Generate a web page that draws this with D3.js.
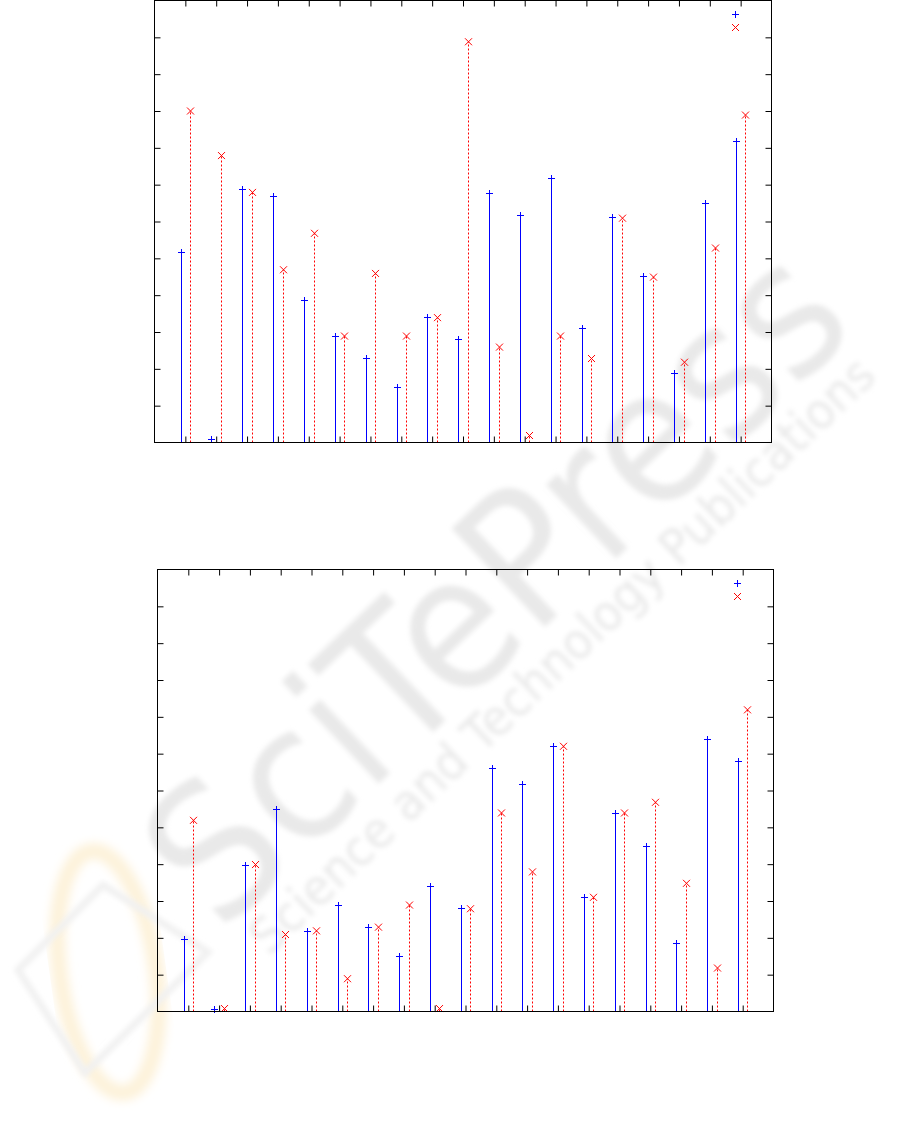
<!DOCTYPE html>
<html>
<head>
<meta charset="utf-8">
<script src="https://cdn.jsdelivr.net/npm/d3@7"></script>
<style>
  body { margin: 0; background: #fff; }
  svg { display: block; }
</style>
</head>
<body>
<div id="viz"></div>
<script>
/* ---- data (no axis labels in the original) ---- */
var groups = [1, 2, 3, 4, 5, 6, 7, 8, 9, 10, 11, 12, 13, 14, 15, 16, 17, 18, 19];
var xTicks = [1, 2, 3, 4, 5, 6, 7, 8, 9, 10, 11, 12, 13, 14, 15, 16, 17, 18, 19];
var yTicks = [1, 2, 3, 4, 5, 6, 7, 8, 9, 10, 11];

// upper panel
var topBlue = [5.18, 0.09, 6.88, 6.69, 3.88, 2.90, 2.29, 1.50, 3.40, 2.80,
               6.78, 6.19, 7.18, 3.12, 6.11, 4.51, 1.90, 6.49, 8.19];
var topRed  = [9.00, 7.79, 6.79, 4.69, 5.68, 2.89, 4.59, 2.89, 3.39, 10.88,
               2.59, 0.19, 2.89, 2.28, 6.09, 4.49, 2.18, 5.28, 8.89];

// lower panel
var botBlue = [1.98, 0.08, 3.99, 5.49, 2.18, 2.88, 2.30, 1.50, 3.40, 2.80,
               6.60, 6.19, 7.20, 3.10, 5.38, 4.48, 1.87, 7.39, 6.80];
var botRed  = [5.19, 0.08, 3.99, 2.09, 2.19, 0.89, 2.29, 2.89, 0.08, 2.79,
               5.39, 3.79, 7.20, 3.10, 5.39, 5.68, 3.48, 1.18, 8.19];

var xDomain = [0, 20];
var yDomain = [0, 12];

var svg = d3.select("#viz")
  .append("svg")
    .attr("width", 901)
    .attr("height", 1130);

/* ---- faint publisher watermark behind everything ---- */
var defs = svg.append("defs");
defs.append("filter").attr("id", "soft")
  .append("feGaussianBlur").attr("stdDeviation", 2.5);
defs.append("filter").attr("id", "softer")
  .append("feGaussianBlur").attr("stdDeviation", 5);

var wm = svg.append("g").attr("class", "watermark");

wm.append("ellipse")
  .attr("transform", "translate(108,972) rotate(-8)")
  .attr("rx", 48).attr("ry", 122)
  .attr("fill", "none")
  .attr("stroke", "#fdf2da")
  .attr("stroke-width", 16)
  .attr("filter", "url(#softer)");

wm.append("polygon")
  .attr("points", "18,970 103,885 208,952 85,1073")
  .attr("fill", "none")
  .attr("stroke", "#f1f1f1")
  .attr("stroke-width", 7)
  .attr("filter", "url(#soft)");

var wmText = wm.append("g")
  .attr("transform", "translate(505,595) rotate(-43.5)")
  .attr("fill", "#e9e9e9")
  .attr("filter", "url(#soft)")
  .style("font-family", "'DejaVu Sans', sans-serif");

wmText.append("text")
  .attr("x", 0).attr("y", 50)
  .attr("text-anchor", "middle")
  .attr("textLength", 880)
  .attr("lengthAdjust", "spacingAndGlyphs")
  .style("font-size", "185px")
  .text("SciTePress");

wmText.append("text")
  .attr("x", 0).attr("y", 100)
  .attr("text-anchor", "middle")
  .attr("textLength", 840)
  .attr("lengthAdjust", "spacingAndGlyphs")
  .style("font-size", "50px")
  .text("Science and Technology Publications");

/* ---- one impulse panel ---- */
function drawPanel(frame, blue, red) {
    var x = d3.scaleLinear().domain(xDomain).range([frame.left, frame.right]);
    var y = d3.scaleLinear().domain(yDomain).range([frame.bottom, frame.top]);

    var g = svg.append("g");

    // the two runs sit just left / right of each tick
    function xa(i) { return Math.round(x(groups[i] - 0.155)) + 0.5; }
    function xb(i) { return Math.round(x(groups[i] + 0.155)) + 0.5; }

    // blue solid impulses
    g.selectAll(".impA")
      .data(blue)
      .enter()
      .append("line")
        .attr("x1", function(d, i) { return xa(i); })
        .attr("x2", function(d, i) { return xa(i); })
        .attr("y1", y(0))
        .attr("y2", function(d) { return y(d); })
        .attr("stroke", "#0000ff")
        .attr("stroke-width", 1);

    // red dotted impulses
    g.selectAll(".impB")
      .data(red)
      .enter()
      .append("line")
        .attr("x1", function(d, i) { return xb(i); })
        .attr("x2", function(d, i) { return xb(i); })
        .attr("y1", y(0))
        .attr("y2", function(d) { return y(d); })
        .attr("stroke", "#ff0000")
        .attr("stroke-width", 1)
        .attr("stroke-dasharray", "2,2");

    // point markers
    g.selectAll(".plus")
      .data(blue)
      .enter()
      .append("path")
        .attr("d", function(d, i) {
            var cx = xa(i), cy = Math.round(y(d)) + 0.5;
            return "M" + (cx - 3.5) + "," + cy + "h7M" + cx + "," + (cy - 3.5) + "v7";
        })
        .attr("stroke", "#0000ff")
        .attr("fill", "none");

    g.selectAll(".cross")
      .data(red)
      .enter()
      .append("path")
        .attr("d", function(d, i) {
            var cx = xb(i), cy = y(d);
            return "M" + (cx - 3.5) + "," + (cy - 3.5) + "l7,7M" + (cx - 3.5) + "," + (cy + 3.5) + "l7,-7";
        })
        .attr("stroke", "#ff0000")
        .attr("fill", "none");

    // inward ticks on all four sides, no labels
    var tick = 6;
    g.append("g")
      .attr("transform", "translate(0," + frame.bottom + ")")
      .call(d3.axisBottom(x).tickValues(xTicks).tickSize(-tick).tickFormat(""))
      .call(function(a) { a.select(".domain").remove(); });
    g.append("g")
      .attr("transform", "translate(0," + frame.top + ")")
      .call(d3.axisTop(x).tickValues(xTicks).tickSize(-tick).tickFormat(""))
      .call(function(a) { a.select(".domain").remove(); });
    g.append("g")
      .attr("transform", "translate(" + frame.left + ",0)")
      .call(d3.axisLeft(y).tickValues(yTicks).tickSize(-tick).tickFormat(""))
      .call(function(a) { a.select(".domain").remove(); });
    g.append("g")
      .attr("transform", "translate(" + frame.right + ",0)")
      .call(d3.axisRight(y).tickValues(yTicks).tickSize(-tick).tickFormat(""))
      .call(function(a) { a.select(".domain").remove(); });

    g.append("rect")
      .attr("x", frame.left)
      .attr("y", frame.top)
      .attr("width", frame.right - frame.left)
      .attr("height", frame.bottom - frame.top)
      .attr("fill", "none")
      .attr("stroke", "#000")
      .attr("stroke-width", 1);

    // key samples (the key text is empty in the original)
    var kx = Math.round(frame.right - 37) + 0.5;
    var ky = Math.round(frame.top + 13) + 0.5;
    g.append("path")
      .attr("d", "M" + (kx - 3.5) + "," + ky + "h7M" + kx + "," + (ky - 3.5) + "v7")
      .attr("stroke", "#0000ff").attr("fill", "none");
    ky = frame.top + 27;
    g.append("path")
      .attr("d", "M" + (kx - 3.5) + "," + (ky - 3.5) + "l7,7M" + (kx - 3.5) + "," + (ky + 3.5) + "l7,-7")
      .attr("stroke", "#ff0000").attr("fill", "none");
}

drawPanel({left: 154.5, right: 771.5, top: 0.5, bottom: 442.5}, topBlue, topRed);
drawPanel({left: 157.5, right: 773.5, top: 569.5, bottom: 1011.5}, botBlue, botRed);
</script>
</body>
</html>
